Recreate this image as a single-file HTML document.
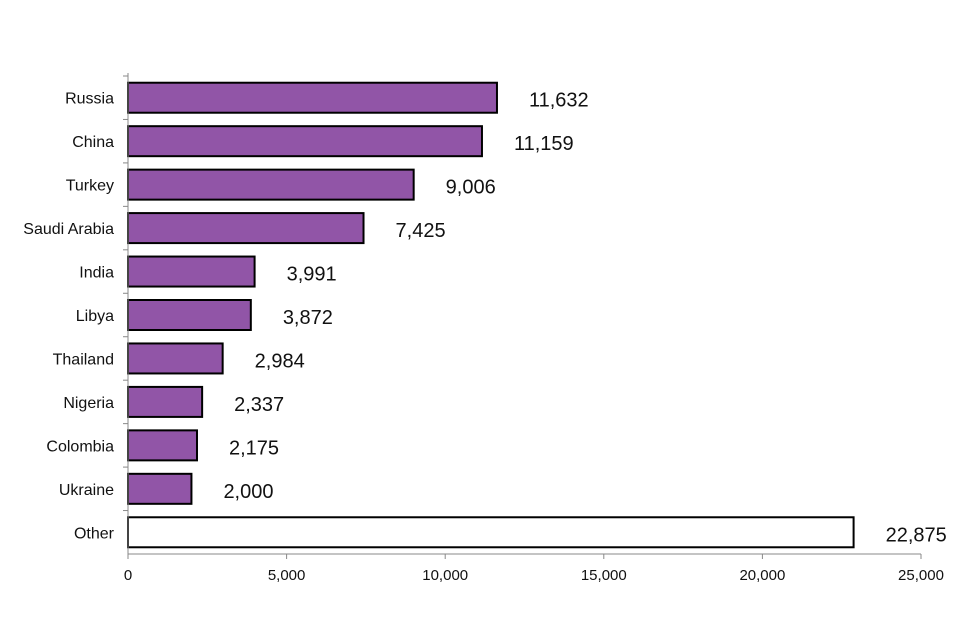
<!DOCTYPE html>
<html><head><meta charset="utf-8"><style>
html,body{margin:0;padding:0;background:#fff;}
svg{display:block;font-family:"Liberation Sans",Arial,sans-serif;}
</style></head><body>
<svg id="chart" width="960" height="640" viewBox="0 0 960 640" xmlns="http://www.w3.org/2000/svg"></svg>
<script>
const categories = ["Russia","China","Turkey","Saudi Arabia","India","Libya","Thailand","Nigeria","Colombia","Ukraine","Other"];
const values = [11632,11159,9006,7425,3991,3872,2984,2337,2175,2000,22875];
const valueLabels = ["11,632","11,159","9,006","7,425","3,991","3,872","2,984","2,337","2,175","2,000","22,875"];
const ticks = [0,5000,10000,15000,20000,25000];
const tickLabels = ["0","5,000","10,000","15,000","20,000","25,000"];

const svg = document.getElementById('chart');
const NS = 'http://www.w3.org/2000/svg';
const x0 = 128, x1 = 921, xMax = 25000;
const yTop = 76, yBot = 554;
const step = (yBot - yTop) / categories.length;
const barH = 30;
const xs = v => x0 + (v / xMax) * (x1 - x0);
const yc = i => yTop + step * (i + 0.5);
function mk(tag, attrs, text){
  const e = document.createElementNS(NS, tag);
  for (const k in attrs) e.setAttribute(k, attrs[k]);
  if (text !== undefined) e.textContent = text;
  svg.appendChild(e);
  return e;
}
categories.forEach((c, i) => {
  const y = yc(i);
  const isOther = c === "Other";
  const r = mk('rect', {x: x0, y: y - barH/2, width: xs(values[i]) - x0, height: barH,
    fill: isOther ? '#ffffff' : '#9155a7', stroke: '#000', 'stroke-width': 2});
  
  
  const t = mk('text', {x: 114, y: y + 6, 'text-anchor': 'end', 'font-size': 16, fill: '#111'}, c);
  
  
  const v = mk('text', {x: xs(values[i]) + 32, y: y + 9, 'font-size': 20, fill: '#111'}, valueLabels[i]);
  
  
  const tk = mk('line', {x1: x0 - 5, x2: x0, y1: yTop + step*i, y2: yTop + step*i, stroke: '#888', 'stroke-width': 1});
  
  
});
const ya = mk('line', {x1: x0, x2: x0, y1: yTop - 3, y2: yBot, stroke: '#888', 'stroke-width': 1});


const xa = mk('line', {x1: x0, x2: x1, y1: yBot, y2: yBot, stroke: '#888', 'stroke-width': 1});


ticks.forEach((t, i) => {
  const l = mk('line', {x1: xs(t), x2: xs(t), y1: yBot, y2: yBot + 5, stroke: '#888', 'stroke-width': 1});
  
  
  const tx = mk('text', {x: xs(t), y: 580, 'text-anchor': 'middle', 'font-size': 15, fill: '#111'}, tickLabels[i]);
  
  
});
</script>
</body></html>
